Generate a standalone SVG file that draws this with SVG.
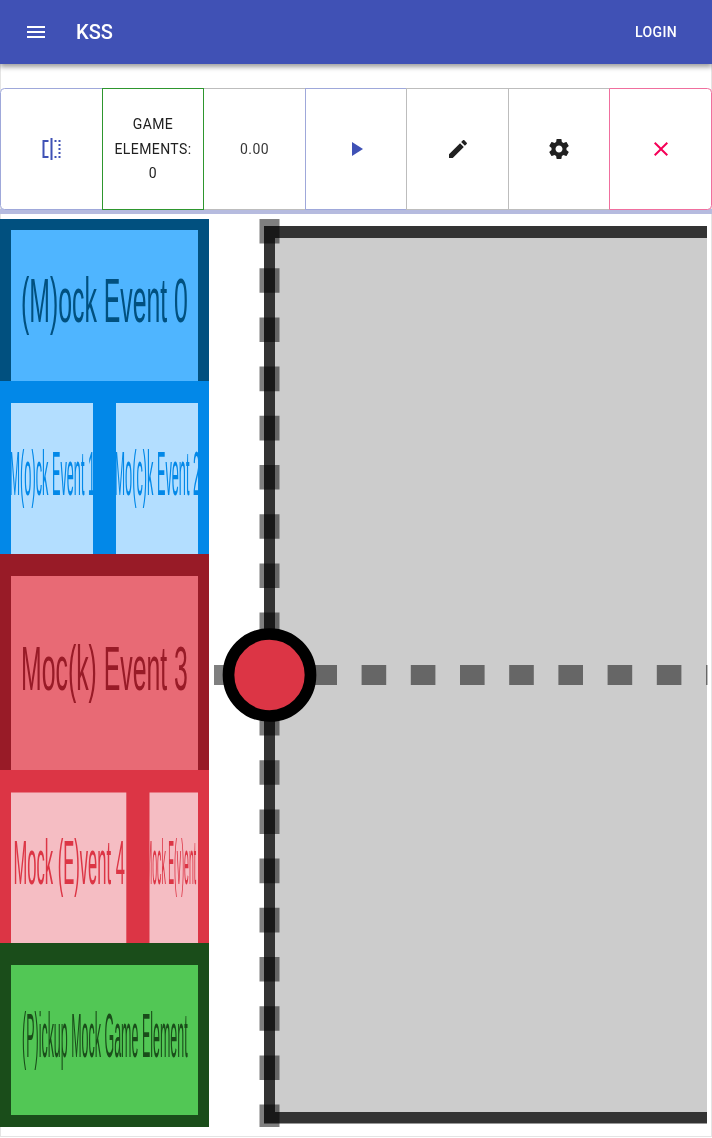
<svg xmlns="http://www.w3.org/2000/svg" width="712" height="1138" viewBox="0 0 712 1138">
<style>
.btn{fill:#fff;stroke-width:1}
.gray{stroke:#bdbdbd}.blue{stroke:#9fa8da}.green{stroke:#2e962e}.pink{stroke:#f06f9e}
.ui{font-family:Roboto,"Liberation Sans",sans-serif;opacity:.999}
.lbl{font-size:14px;letter-spacing:.4px;fill:#212121;text-anchor:middle}
.ev{font-family:"Liberation Sans",Arial,sans-serif;font-size:63px;opacity:.999}
.dash{fill:none;stroke:#000;stroke-opacity:.5;stroke-width:20;stroke-dasharray:24.6}
</style>
<defs>
<filter id="sh" x="-5%" y="-20%" width="110%" height="150%"><feDropShadow dx="0" dy="3" stdDeviation="2.6" flood-color="#000" flood-opacity=".38"/></filter>
<clipPath id="c1"><rect x="11" y="403" width="82" height="151"/></clipPath>
<clipPath id="c2"><rect x="116" y="403" width="82" height="151"/></clipPath>
<clipPath id="c5"><rect x="149.500" y="792.500" width="48.500" height="150.500"/></clipPath>
</defs>
<rect width="712" height="1138" fill="#fff"/>
<rect id="frame" x=".5" y="60" width="711" height="1076.500" fill="none" stroke="#e4e4e4"/>
<g id="appbar">
<rect width="712" height="64" fill="#3f51b5" filter="url(#sh)"/>
<path fill="#fff" transform="translate(24 20)" d="M3 18h18v-2H3v2zm0-5h18v-2H3v2zm0-7v2h18V6H3z"/>
<text class="ui" x="76" y="39" font-size="20" font-weight="500" fill="#fff">KSS</text>
<text class="ui" x="635" y="36.600" font-size="14" font-weight="500" letter-spacing=".4" fill="#fff">LOGIN</text>
</g>
<rect id="toolbar-bar" x="0" y="209" width="712" height="5" fill="#b6bbdf"/>
<g id="toolbar">
<g id="btn-flip"><path class="btn blue" d="M102.500 88.500H4.500a4 4 0 0 0-4 4v113a4 4 0 0 0 4 4H102.500z"/><path fill="#3f51b5" transform="translate(39.500 137)" d="M15 21h2v-2h-2v2zm4-12h2V7h-2v2zM3 3v18h6v-2H5V5h4V3H3zm16 0v2h2V3h-2zm-8 20h2V1h-2v22zm8-6h2v-2h-2v2zM15 5h2V3h-2v2zm4 8h2v-2h-2v2zm0 8h2v-2h-2v2z"/></g>
<g id="btn-score"><rect class="btn gray" x="203.500" y="88.500" width="102" height="121"/><text class="ui lbl" x="254.500" y="153.600" fill-opacity=".9">0.00</text></g>
<g id="btn-play"><rect class="btn blue" x="305.500" y="88.500" width="101" height="121"/><path fill="#3f51b5" transform="translate(344 137)" d="M8 5v14l11-7z"/></g>
<g id="btn-edit"><rect class="btn gray" x="406.500" y="88.500" width="102" height="121"/><path fill="#212121" transform="translate(446 137)" d="M3 17.250V21h3.750L17.810 9.940l-3.750-3.750L3 17.250zM20.710 7.040c.39-.39.39-1.020 0-1.410l-2.340-2.340c-.39-.39-1.020-.39-1.410 0l-1.830 1.830 3.750 3.750 1.830-1.830z"/></g>
<g id="btn-settings"><rect class="btn gray" x="508.500" y="88.500" width="101" height="121"/><path fill="#212121" transform="translate(547 137)" d="M19.430 12.980c.04-.32.07-.64.07-.98s-.03-.66-.07-.98l2.110-1.650c.19-.15.24-.42.12-.64l-2-3.460c-.12-.22-.39-.3-.61-.22l-2.490 1c-.52-.4-1.080-.73-1.690-.98l-.38-2.650C14.460 2.180 14.250 2 14 2h-4c-.25 0-.46.18-.49.42l-.38 2.650c-.61.25-1.170.59-1.690.98l-2.490-1c-.23-.09-.49 0-.61.22l-2 3.460c-.13.22-.07.49.12.64l2.110 1.650c-.04.32-.07.65-.07.98s.03.66.07.98l-2.110 1.650c-.19.15-.24.42-.12.64l2 3.460c.12.22.39.3.61.22l2.490-1c.52.4 1.080.73 1.690.98l.38 2.650c.03.24.24.42.49.42h4c.25 0 .46-.18.49-.42l.38-2.650c.61-.25 1.170-.59 1.690-.98l2.490 1c.23.09.49 0 .61-.22l2-3.460c.12-.22.07-.49-.12-.64l-2.110-1.650zM12 15.500c-1.930 0-3.500-1.570-3.500-3.500s1.570-3.500 3.500-3.500 3.500 1.570 3.500 3.500-1.570 3.500-3.500 3.500z"/></g>
<g id="btn-close"><path class="btn pink" d="M609.500 88.500h98a4 4 0 0 1 4 4v113a4 4 0 0 1-4 4h-98z"/><path fill="#f50057" transform="translate(649 137)" d="M19 6.410L17.590 5 12 10.590 6.410 5 5 6.410 10.590 12 5 17.590 6.410 19 12 13.410 17.590 19 19 17.590 13.410 12z"/></g>
<g id="btn-elements"><rect class="btn green" x="102.500" y="88.500" width="101" height="121"/><text class="ui lbl" x="153" y="128.600">GAME</text><text class="ui lbl" x="153" y="153.600">ELEMENTS:</text><text class="ui lbl" x="153" y="177.600">0</text></g>
</g>
<g id="event-0"><rect x="0" y="219" width="209" height="162" fill="#01507f"/><rect x="11" y="230" width="187" height="151" fill="#4fb5ff"/><text class="ev" transform="translate(21 321.700) scale(.394 1)" fill="#01507f">(M)ock Event 0</text></g>
<g id="event-1-2"><rect x="0" y="381" width="209" height="173" fill="#0288e8"/><rect x="11" y="403" width="82" height="151" fill="#b3deff"/><rect x="116" y="403" width="82" height="151" fill="#b3deff"/><g clip-path="url(#c1)"><text class="ev" transform="translate(9.500 495) scale(.202 1)" fill="#0288e8">M(o)ck Event 1</text></g><g clip-path="url(#c2)"><text class="ev" transform="translate(114.500 495) scale(.202 1)" fill="#0288e8">Mo(c)k Event 2</text></g></g>
<g id="event-3"><rect x="0" y="554" width="209" height="216" fill="#981b27"/><rect x="11" y="576" width="187" height="194" fill="#e86a75"/><text class="ev" transform="translate(21 690) scale(.394 1)" fill="#981b27">Moc(k) Event 3</text></g>
<g id="event-4-5"><rect x="0" y="770" width="209" height="173" fill="#dc3545"/><rect x="11" y="792.500" width="115.300" height="150.500" fill="#f5bdc3"/><rect x="149.500" y="792.500" width="48.500" height="150.500" fill="#f5bdc3"/><text class="ev" transform="translate(13.500 884) scale(.263 1)" fill="#dc3545">Mock (E)vent 4</text><g clip-path="url(#c5)"><text class="ev" transform="translate(145 884) scale(.138 1)" fill="#dc3545">Mock E(v)ent 5</text></g></g>
<g id="pickup"><rect x="0" y="943" width="209" height="184" fill="#1a4d1a"/><rect x="11" y="965" width="187" height="150" fill="#52c755"/><text class="ev" transform="translate(22 1057) scale(.198 1)" fill="#1a4d1a">(P)ickup Mock Game Element</text></g>
<g id="playfield"><rect x="275" y="238" width="432" height="874" fill="#ccc"/><path d="M264 226H707V238H275V1112H707V1123.500H264z" fill="#333"/></g>
<g id="connectors"><path class="dash" d="M269.500 219V1127"/><path class="dash" d="M214 675H707.500"/></g>
<g id="player"><circle cx="269.500" cy="675" r="41" fill="#dc3545" stroke="#000" stroke-width="11.700"/></g>
</svg>
